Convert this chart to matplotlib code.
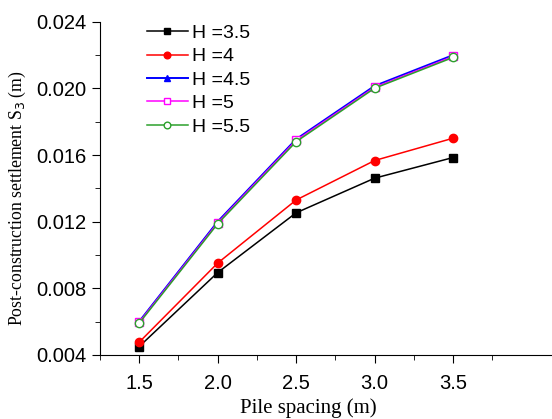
import numpy as np
import matplotlib.pyplot as plt

# pile spacing (m) and post-construction settlement S3 (m) for each embankment height H
spacing = [1.5, 2.0, 2.5, 3.0, 3.5]
s_h35 = [0.00450, 0.00894, 0.01253, 0.01461, 0.01585]
s_h4 = [0.00476, 0.00951, 0.01330, 0.01567, 0.01701]
s_h45 = [0.00600, 0.01200, 0.01695, 0.02015, 0.02200]
s_h5 = [0.00595, 0.01193, 0.01688, 0.02007, 0.02192]
s_h55 = [0.00590, 0.01187, 0.01680, 0.02001, 0.02186]
labels = ["H =3.5", "H =4", "H =4.5", "H =5", "H =5.5"]

fig = plt.figure(figsize=(5.52, 4.19), dpi=100)
ax = fig.add_axes([0.181, 0.153, 0.819, 0.795])

ax.plot(spacing, s_h35, color="black", marker="s", ms=6, lw=1.1, label=labels[0])
ax.plot(spacing, s_h4, color="red", marker="o", ms=6, lw=1.1, label=labels[1])
ax.plot(spacing, s_h45, color="blue", marker="^", ms=5, lw=1.4, label=labels[2])
ax.plot(spacing, s_h5, color="magenta", marker="s", ms=6, lw=1.1, mfc="white", label=labels[3])
ax.plot(spacing, s_h55, color="#2ca02c", marker="o", ms=6, lw=1.1, mfc="white", label=labels[4])

ax.set_xlim(1.25, 4.13)
ax.set_ylim(0.004, 0.024)
ax.set_xticks([1.5, 2.0, 2.5, 3.0, 3.5])
ax.set_xticks(np.arange(1.25, 4.0, 0.5), minor=True)
ax.set_yticks([0.004, 0.008, 0.012, 0.016, 0.020, 0.024])
ax.set_yticks(np.arange(0.006, 0.024, 0.004), minor=True)
ax.yaxis.set_major_formatter(plt.FormatStrFormatter("%.3f"))
ax.xaxis.set_major_formatter(plt.FormatStrFormatter("%.1f"))

for side in ["top", "right"]:
    ax.spines[side].set_visible(False)
ax.tick_params(which="both", direction="out", labelsize=14.5)
ax.tick_params(which="major", length=6)
ax.tick_params(which="minor", length=3.5)
ax.tick_params(axis="x", pad=8)
for lab in ax.get_xticklabels() + ax.get_yticklabels():
    lab.set_family("Liberation Sans")

ax.set_xlabel("Pile spacing (m)", family="Liberation Serif", fontsize=15, labelpad=10)
ax.xaxis.set_label_coords(0.46, -0.13)
ax.set_ylabel("Post-construction settlement S$_3$ (m)", family="Liberation Serif", fontsize=12.8)
ax.yaxis.set_label_coords(-0.158, 0.47)

leg = ax.legend(loc="upper left", bbox_to_anchor=(0.065, 1.045), frameon=False,
                prop={"family": "Liberation Sans", "size": 14},
                handlelength=2.1, labelspacing=0.3, handletextpad=0.2,
                markerscale=0.8)

fig.savefig("out.png", dpi=100)
